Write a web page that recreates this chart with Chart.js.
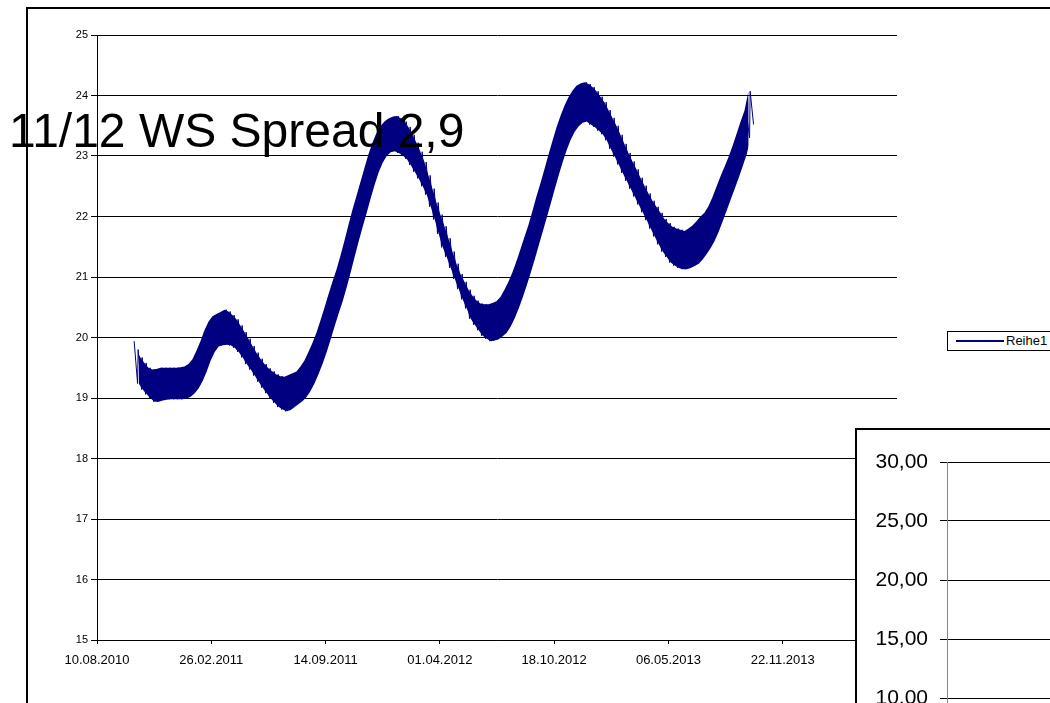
<!DOCTYPE html>
<html lang="de">
<head>
<meta charset="UTF-8">
<title>11/12 WS Spread</title>
<script src="https://cdn.jsdelivr.net/npm/chart.js"></script>
<style>
    html, body { margin:0; padding:0; width:1050px; height:703px; overflow:hidden; background:#fff; }
    body { position:relative; font-family:"Liberation Sans", Arial, sans-serif; }
    #frame { position:absolute; left:26px; top:7px; width:1100px; height:800px; border-left:2px solid #000; border-top:2px solid #000; }
    #main { position:absolute; left:0; top:0; }
    #overlay { position:absolute; left:9px; top:107px; font-size:48px; line-height:48px; color:#000; white-space:nowrap; }
    #legend { position:absolute; left:947px; top:331px; width:130px; height:18px; border:1px solid #000; background:#fff; }
    #legend .ln { position:absolute; left:8px; top:8px; width:48px; height:2px; background:#000080; }
    #legend .tx { position:absolute; left:58px; top:1px; font-size:13px; line-height:15px; }
    #inset { position:absolute; left:855px; top:428px; width:300px; height:420px; border-left:2px solid #000; border-top:2px solid #000; background:#fff; }
    #insetChart { position:absolute; left:0; top:0; }
</style>
</head>
<body>
<div id="frame"></div>
<canvas id="main" width="1050" height="703"></canvas>
<div id="legend"><div class="ln"></div><div class="tx">Reihe1</div></div>
<div id="inset"><canvas id="insetChart" width="300" height="420"></canvas></div>
<div id="overlay">11/12 WS Spread 2,9</div>
<script>
    // Tage ab 10.08.2010, erster Wert ca. 14.10.2010, ein Zacken pro Woche
    const startDay = 65;
    // Wochen-Spitze (Wochenanfang)
    const weekHigh = [
        19.94, 19.80, 19.67, 19.58, 19.50, 19.47, 19.48, 19.50, 19.50, 19.50,
        19.50, 19.50, 19.51, 19.52, 19.56, 19.64, 19.78, 19.94, 20.12, 20.26,
        20.35, 20.39, 20.42, 20.46, 20.43, 20.37, 20.30, 20.20, 20.09, 19.98,
        19.86, 19.75, 19.65, 19.56, 19.49, 19.44, 19.39, 19.36, 19.35, 19.38,
        19.41, 19.44, 19.52, 19.62, 19.76, 19.91, 20.08, 20.28, 20.49, 20.71,
        20.92, 21.12, 21.35, 21.60, 21.86, 22.11, 22.34, 22.57, 22.80, 23.03,
        23.22, 23.38, 23.49, 23.57, 23.62, 23.65, 23.66, 23.63, 23.57, 23.48,
        23.35, 23.22, 23.07, 22.90, 22.68, 22.46, 22.23, 22.03, 21.84, 21.64,
        21.42, 21.22, 21.05, 20.92, 20.79, 20.69, 20.61, 20.56, 20.55, 20.55,
        20.57, 20.60, 20.67, 20.79, 20.92, 21.08, 21.26, 21.46, 21.66, 21.86,
        22.09, 22.33, 22.55, 22.78, 23.02, 23.25, 23.47, 23.66, 23.83, 23.97,
        24.08, 24.16, 24.20, 24.22, 24.19, 24.14, 24.07, 23.98, 23.89, 23.76,
        23.63, 23.50, 23.35, 23.20, 23.05, 22.91, 22.78, 22.64, 22.51, 22.38,
        22.26, 22.16, 22.06, 21.96, 21.89, 21.83, 21.80, 21.78, 21.76, 21.80,
        21.85, 21.92, 22.00, 22.06, 22.17, 22.32, 22.49, 22.66, 22.82, 22.98,
        23.16, 23.36, 23.56, 23.75, 24.07
    ];
    // Wochen-Tief (Wochenende)
    const weekLow = [
        19.24, 19.14, 19.06, 18.99, 18.94, 18.94, 18.96, 18.97, 18.98, 18.98,
        18.98, 18.98, 18.99, 19.02, 19.08, 19.16, 19.28, 19.44, 19.62, 19.76,
        19.85, 19.87, 19.88, 19.87, 19.83, 19.76, 19.67, 19.56, 19.47, 19.37,
        19.27, 19.17, 19.08, 18.99, 18.92, 18.85, 18.81, 18.78, 18.80, 18.85,
        18.90, 18.95, 19.02, 19.12, 19.25, 19.40, 19.57, 19.76, 19.97, 20.19,
        20.40, 20.60, 20.83, 21.08, 21.34, 21.59, 21.83, 22.06, 22.30, 22.53,
        22.73, 22.89, 23.00, 23.06, 23.08, 23.05, 23.01, 22.95, 22.85, 22.74,
        22.63, 22.50, 22.36, 22.16, 21.95, 21.71, 21.49, 21.33, 21.15, 20.97,
        20.80, 20.63, 20.48, 20.31, 20.21, 20.12, 20.03, 19.98, 19.94, 19.95,
        19.97, 20.02, 20.08, 20.18, 20.32, 20.48, 20.66, 20.86, 21.07, 21.29,
        21.52, 21.75, 21.98, 22.21, 22.45, 22.68, 22.90, 23.10, 23.27, 23.40,
        23.49, 23.55, 23.57, 23.52, 23.48, 23.42, 23.36, 23.26, 23.12, 22.99,
        22.86, 22.72, 22.59, 22.46, 22.33, 22.20, 22.07, 21.94, 21.80, 21.67,
        21.54, 21.42, 21.33, 21.24, 21.19, 21.15, 21.13, 21.13, 21.15, 21.18,
        21.22, 21.29, 21.38, 21.48, 21.60, 21.75, 21.92, 22.10, 22.28, 22.46,
        22.64, 22.83, 23.03, 23.30, 23.52
    ];
    const xTickLabels = ['10.08.2010', '26.02.2011', '14.09.2011', '01.04.2012',
                         '18.10.2012', '06.05.2013', '22.11.2013', '10.06.2014'];
    const seriesName = 'Reihe1';
    const navy = '#000080';

    const fam = "'Liberation Sans', Arial, sans-serif";
    Chart.defaults.font.family = fam;
    Chart.defaults.color = '#000';

    // Zickzack-Linie; die Fläche dahinter ist etwas versetzt, damit die Zacken am Rand sichtbar bleiben
    let points = [], upper = [], lower = [];
    for (let k = 0; k < weekHigh.length; k++) {
        points.push({x: startDay + 7 * k, y: weekHigh[k]});
        points.push({x: startDay + 7 * k + 6, y: weekLow[k]});
        upper.push({x: startDay + 7 * k - 3, y: weekHigh[k]});
        lower.push({x: startDay + 7 * k + 8, y: weekLow[k]});
    }

    new Chart(document.getElementById('main'), {
        type: 'line',
        data: {
            datasets: [{
                label: seriesName,
                data: points,
                borderColor: navy,
                borderWidth: 1,
                pointRadius: 0,
                fill: false,
                tension: 0
            }, {
                label: 'oben',
                data: upper,
                borderWidth: 0,
                borderColor: navy,
                pointRadius: 0,
                fill: false
            }, {
                label: 'unten',
                data: lower,
                borderWidth: 0,
                borderColor: navy,
                backgroundColor: navy,
                pointRadius: 0,
                fill: '-1'
            }]
        },
        options: {
            responsive: false,
            animation: false,
            layout: { padding: { left: 0, top: 35, right: 153, bottom: 0 } },
            plugins: { legend: { display: false }, tooltip: { enabled: false } },
            scales: {
                x: {
                    type: 'linear', min: 0, max: 1400,
                    ticks: {
                        stepSize: 200, autoSkip: false, maxRotation: 0, padding: 9,
                        font: { size: 13 },
                        callback: v => xTickLabels[Math.round(v / 200)]
                    },
                    grid: { drawOnChartArea: false, tickLength: 4, color: '#000' },
                    border: { color: '#000' },
                    afterFit: s => { s.height = 63; }
                },
                y: {
                    min: 15, max: 25,
                    ticks: { stepSize: 1, padding: 3, font: { size: 11 } },
                    grid: { color: '#000', tickLength: 6 },
                    border: { color: '#000' },
                    afterFit: s => { s.width = 97; }
                }
            }
        }
    });

    // zweites Diagramm rechts unten (nur Achse sichtbar)
    new Chart(document.getElementById('insetChart'), {
        type: 'line',
        data: { datasets: [] },
        options: {
            responsive: false,
            animation: false,
            layout: { padding: { left: 0, top: 32, right: 0, bottom: 34 } },
            plugins: { legend: { display: false }, tooltip: { enabled: false } },
            scales: {
                x: { type: 'linear', min: 0, max: 1, display: false },
                y: {
                    min: 0, max: 30,
                    ticks: { stepSize: 5, padding: 12, font: { size: 21 },
                             callback: v => v.toFixed(2).replace('.', ',') },
                    grid: { color: '#000', tickLength: 7 },
                    border: { color: '#888' },
                    afterFit: s => { s.width = 90; }
                }
            }
        }
    });
</script>
</body>
</html>
